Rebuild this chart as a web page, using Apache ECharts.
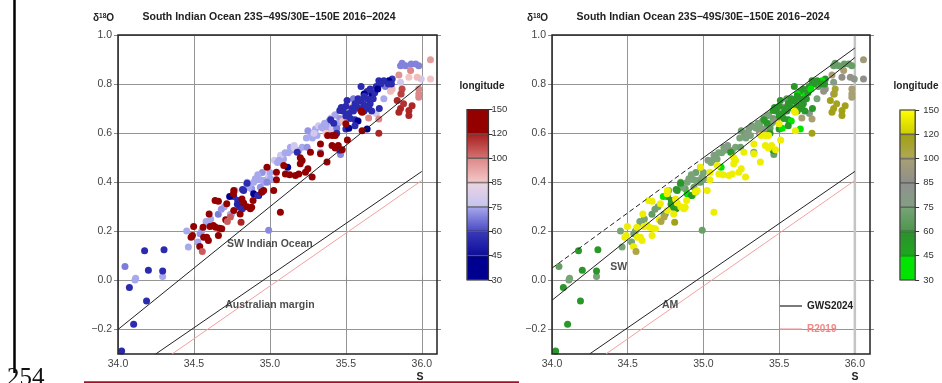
<!DOCTYPE html>
<html><head><meta charset="utf-8">
<script src="https://cdn.jsdelivr.net/npm/echarts@6/dist/echarts.min.js"></script>
<style>html,body{margin:0;padding:0;background:#fff;overflow:hidden}#c{width:942px;height:383px}</style>
</head><body><div id="c"></div>
<script>
// ---------- data ----------
const salinity = [
 34.046,34.116,34.112,34.294,34.463,34.452,34.525,34.551,34.590,34.540,
 34.748,34.770,34.847,34.880,34.860,34.904,34.937,34.992,34.960,34.990,
 35.000,35.030,35.050,35.090,35.070,35.135,35.160,35.190,35.212,35.245,
 35.120,35.240,35.270,35.250,35.300,35.310,35.320,35.350,35.370,35.390,
 35.400,35.420,35.340,35.390,35.410,35.430,35.460,35.450,35.333,34.740,
 34.700,34.660,34.850,34.893,34.937,34.960,35.003,34.981,35.996,35.860,
 35.750,35.700,35.440,35.465,35.980,35.960,35.930,35.893,35.860,35.870,
 35.550,35.760,35.970,36.057,35.805,35.860,35.794,35.915,35.530,35.600,
 35.480,35.140,35.160,35.100,35.060,34.950,34.920,34.980,35.280,35.290,
 35.360,35.370,34.610,34.680,34.580,
 34.024,34.103,34.188,34.075,34.200,34.294,34.175,34.303,34.762,34.788,
 34.800,34.786,34.819,34.827,34.893,34.926,34.948,34.920,35.117,35.180,
 35.460,34.850,34.820,35.805,35.783,35.750,35.717,35.730,35.700,35.660,
 35.640,35.673,35.680,35.620,35.620,35.600,35.640,35.580,35.560,35.508,
 35.500,35.570,35.620,35.660,35.590,35.650,35.670,35.620,35.550,35.520,
 35.480,35.460,35.470,35.500,35.530,35.560,35.580,35.500,35.520,35.560,
 35.640,35.420,35.400,35.720,35.780,35.800,35.690,35.710,34.735,35.600,
 35.540,35.440,
 34.498,34.481,34.490,34.538,34.555,34.584,34.595,34.564,34.606,34.628,
 34.643,34.560,34.600,34.661,34.668,34.683,34.709,34.720,34.716,34.639,
 34.661,34.760,34.762,34.740,34.762,34.810,34.816,34.827,34.804,34.850,
 34.871,34.889,34.880,34.946,34.959,34.981,35.025,35.043,35.043,35.069,
 35.091,35.102,35.130,35.168,35.190,35.200,35.234,35.250,35.278,35.212,
 35.200,35.267,35.333,35.333,35.376,35.409,35.430,35.410,35.430,35.380,
 35.450,35.476,35.510,35.500,35.607,35.600,35.607,35.717,35.717,35.650,
 35.838,35.870,35.936,35.915,35.915,35.849,35.860,35.880,35.864,35.980,
 35.980,35.980,35.849,35.926,36.057
];
const d18o = [
 0.057,0.009,0.002,0.016,0.136,0.201,0.156,0.201,0.233,0.190,
 0.271,0.366,0.393,0.373,0.380,0.414,0.410,0.204,0.400,0.420,
 0.440,0.490,0.480,0.495,0.510,0.543,0.550,0.529,0.543,0.543,
 0.520,0.580,0.600,0.610,0.617,0.590,0.630,0.620,0.630,0.650,
 0.660,0.670,0.624,0.617,0.617,0.675,0.660,0.640,0.522,0.270,
 0.300,0.270,0.400,0.400,0.380,0.407,0.414,0.400,0.821,0.807,
 0.740,0.680,0.620,0.513,0.875,0.882,0.882,0.875,0.875,0.885,
 0.740,0.790,0.828,0.821,0.780,0.760,0.771,0.828,0.706,0.732,
 0.650,0.530,0.540,0.520,0.490,0.440,0.430,0.460,0.580,0.600,
 0.640,0.600,0.250,0.290,0.240,
 -0.288,-0.179,-0.084,-0.029,0.041,0.038,0.121,0.125,0.342,0.326,
 0.298,0.310,0.292,0.366,0.353,0.346,0.360,0.346,0.461,0.522,
 0.530,0.396,0.370,0.821,0.814,0.814,0.814,0.800,0.790,0.780,
 0.770,0.753,0.740,0.760,0.750,0.730,0.740,0.740,0.720,0.733,
 0.710,0.710,0.715,0.720,0.700,0.700,0.690,0.690,0.690,0.680,
 0.690,0.692,0.705,0.670,0.660,0.655,0.650,0.617,0.620,0.630,
 0.617,0.640,0.655,0.700,0.800,0.800,0.765,0.780,0.342,0.790,
 0.700,0.600,
 0.220,0.176,0.183,0.138,0.118,0.176,0.163,0.176,0.220,0.224,
 0.217,0.217,0.271,0.183,0.212,0.210,0.247,0.240,0.312,0.326,
 0.323,0.353,0.366,0.258,0.285,0.237,0.332,0.315,0.271,0.300,
 0.292,0.326,0.298,0.360,0.366,0.461,0.366,0.441,0.410,0.278,
 0.468,0.434,0.430,0.427,0.434,0.475,0.441,0.455,0.421,0.489,
 0.500,0.522,0.556,0.516,0.482,0.550,0.540,0.590,0.590,0.590,
 0.550,0.532,0.572,0.638,0.685,0.690,0.610,0.600,0.658,0.662,
 0.733,0.780,0.712,0.692,0.672,0.685,0.700,0.720,0.760,0.780,
 0.760,0.746,0.837,0.855,0.899
];
const longitude = [
 68,75,75,75,75,75,75,75,75,72,
 75,75,75,72,75,75,75,70,75,78,
 75,78,75,75,78,75,78,75,75,72,
 75,75,75,72,75,75,78,75,75,72,
 75,80,75,75,78,75,72,75,75,75,
 75,68,75,75,72,75,75,70,78,78,
 75,78,68,70,69,69,69,69,69,69,
 68,68,88,86,88,88,88,86,88,88,
 88,75,78,75,75,72,75,78,75,78,
 75,86,75,72,75,
 55,55,55,55,55,55,55,55,55,55,
 55,52,55,55,42,42,55,55,42,55,
 55,55,55,58,42,55,55,55,55,55,
 55,42,55,42,55,55,55,55,55,55,
 55,55,55,55,55,55,55,55,55,55,
 55,55,55,55,55,55,42,55,42,55,
 42,55,55,55,55,55,55,42,42,55,
 55,55,
 140,140,140,140,105,140,140,140,140,140,
 140,140,140,140,140,140,140,105,140,140,
 140,140,140,105,140,118,140,140,140,140,
 140,140,140,140,140,140,140,140,140,140,
 140,140,140,140,140,140,140,140,140,140,
 140,140,140,140,140,140,140,140,140,140,
 140,140,140,140,140,140,140,118,100,100,
 118,110,118,118,118,118,118,115,112,100,
 100,100,98,100,95
];
const xTicks = [34.0, 34.5, 35.0, 35.5, 36.0];
const yTicks = [-0.2, 0.0, 0.2, 0.4, 0.6, 0.8, 1.0];
const cbLevels = [30, 45, 60, 75, 85, 100, 120, 150];
// reference lines (S, d18O end points)
const lineSWIndian = [[34.0, -0.2], [36.0, 0.8]];
const lineAM = [[34.248, -0.3], [36.0, 0.444]];
const lineR2019 = [[34.356, -0.3], [36.0, 0.407]];
const lineUpperDashed = [[34.0, 0.05], [34.98, 0.491]];
const lineUpperSolid = [[34.98, 0.491], [36.0, 0.947]];
const lineSW = [[34.0, -0.081], [36.0, 0.908]];
const lineS36 = [[36.0, -0.3], [36.0, 1.0]];
const titleText = 'South Indian Ocean 23S\u221249S/30E\u2212150E 2016\u22122024';

// colour palettes: [low, high] per segment of cbLevels
const segLeft = [['#000090','#000090'],['#0c0c9c','#3a3ab8'],['#4a4ac4','#a8a8ec'],['#c4c4f2','#ecd4e0'],['#f4c8c8','#dc8888'],['#d47272','#a81e1e'],['#940000','#940000']];
const segRight = [['#00e400','#00e400'],['#1ca81c','#2f8f2f'],['#4c964c','#78a478'],['#82a082','#909090'],['#8e8e8a','#a8a074'],['#b0a858','#a0a010'],['#cccc00','#ffff00']];

function lerpHex(a, b, t) {
  const pa = parseInt(a.slice(1), 16), pb = parseInt(b.slice(1), 16);
  const c = [16, 8, 0].map(s => Math.round(((pa >> s) & 255) * (1 - t) + ((pb >> s) & 255) * t));
  return 'rgb(' + c.join(',') + ')';
}
function cmap(seg, v) {
  let i = 0;
  while (i < cbLevels.length - 2 && v > cbLevels[i + 1]) i++;
  const t = Math.max(0, Math.min(1, (v - cbLevels[i]) / (cbLevels[i + 1] - cbLevels[i])));
  return lerpHex(seg[i][0], seg[i][1], t);
}

const points = salinity.map((s, i) => [s, d18o[i], longitude[i]]);
const FONT = 'Liberation Sans, Arial, sans-serif';
const fmtY = v => (Math.round(v * 10) / 10).toFixed(1).replace('-', '\u2212');

function mainAxes(gi) {
  const xs = [
    { type: 'value', gridIndex: gi, min: 34.0, max: 36.1, position: 'bottom',
      axisLine: { show: false },
      axisTick: { show: true, length: 4, customValues: xTicks, lineStyle: { color: '#888' } },
      axisLabel: { customValues: xTicks, formatter: v => v.toFixed(1), fontSize: 10.5, color: '#444', fontFamily: FONT, margin: 5 },
      splitLine: { show: true, lineStyle: { color: '#959595', width: 1 } } },
    { type: 'value', gridIndex: gi, min: 34.0, max: 36.1, position: 'top',
      axisLine: { show: false },
      axisTick: { show: true, length: 4, customValues: xTicks, lineStyle: { color: '#888' } },
      axisLabel: { show: false }, splitLine: { show: false } }
  ];
  const ys = [
    { type: 'value', gridIndex: gi, min: -0.3, max: 1.0, position: 'left',
      axisLine: { show: false },
      axisTick: { show: true, length: 4, customValues: yTicks, lineStyle: { color: '#888' } },
      axisLabel: { customValues: yTicks, formatter: fmtY, fontSize: 10.5, color: '#444', fontFamily: FONT, margin: 6 },
      splitLine: { show: true, lineStyle: { color: '#959595', width: 1 } } },
    { type: 'value', gridIndex: gi, min: -0.3, max: 1.0, position: 'right',
      axisLine: { show: false },
      axisTick: { show: true, length: 4, customValues: yTicks, lineStyle: { color: '#888' } },
      axisLabel: { show: false }, splitLine: { show: false } }
  ];
  return { xs, ys };
}
const A0 = mainAxes(0), A1 = mainAxes(1);

function cbAxes(gi, margin) {
  return {
    x: { type: 'category', gridIndex: gi, data: ['c'], show: false },
    y: { type: 'value', gridIndex: gi, min: 0, max: 7, interval: 1, position: 'right',
      axisLine: { show: false },
      axisTick: { show: true, length: 4, lineStyle: { color: '#333' } },
      axisLabel: { formatter: v => cbLevels[v], fontSize: 9.5, color: '#333', fontFamily: FONT, margin: margin },
      splitLine: { show: false } }
  };
}
const C0 = cbAxes(2, 3), C1 = cbAxes(3, 8);

function cbSeries(xi, yi, seg, key) {
  return seg.map((c, i) => ({
    type: 'bar', xAxisIndex: xi, yAxisIndex: yi, stack: key, barWidth: '100%', silent: true,
    data: [1],
    itemStyle: {
      color: new echarts.graphic.LinearGradient(0, 1, 0, 0, [{ offset: 0, color: c[0] }, { offset: 1, color: c[1] }]),
      borderColor: '#333', borderWidth: 0.6
    }
  }));
}

function lineS(name, xi, yi, data, color, type, width, z) {
  return { name, type: 'line', xAxisIndex: xi, yAxisIndex: yi, data, showSymbol: false, symbol: 'none',
    silent: true, z: z || 5, animation: false,
    lineStyle: { color, width: width || 1, type: type || 'solid' } };
}
function labelS(xi, yi, items) {
  return { type: 'scatter', xAxisIndex: xi, yAxisIndex: yi, symbolSize: 0, silent: true, z: 6,
    data: items.map(it => ({ value: [it[0], it[1]], name: it[2] })),
    label: { show: true, position: 'inside', formatter: p => p.name, fontSize: 10.5, fontWeight: 'bold', color: '#222', fontFamily: FONT } };
}

const tStyle = { fontSize: 10.5, fontWeight: 'bold', color: '#222', fontFamily: FONT };
const option = {
  animation: false,
  backgroundColor: '#fff',
  title: [
    { text: titleText, left: 264, top: 7, textAlign: 'center', textStyle: tStyle },
    { text: titleText, left: 698, top: 7, textAlign: 'center', textStyle: tStyle },
    { text: '\u03b4{s|18}O', left: 88, top: 8, textStyle: { fontSize: 10, color: '#222', fontFamily: FONT, rich: { s: { fontSize: 6.5, verticalAlign: 'top', color: '#222' } } } },
    { text: '\u03b4{s|18}O', left: 522, top: 8, textStyle: { fontSize: 10, color: '#222', fontFamily: FONT, rich: { s: { fontSize: 6.5, verticalAlign: 'top', color: '#222' } } } },
    { text: 'longitude', left: 477, top: 76, textAlign: 'center', textStyle: { fontSize: 10, fontWeight: 'bold', color: '#222', fontFamily: FONT } },
    { text: 'longitude', left: 911, top: 76, textAlign: 'center', textStyle: { fontSize: 10, fontWeight: 'bold', color: '#222', fontFamily: FONT } },
    { text: 'S', left: 415, top: 367, textAlign: 'center', textStyle: tStyle },
    { text: 'S', left: 850, top: 367, textAlign: 'center', textStyle: tStyle }
  ],
  legend: {
    left: 775, top: 296, orient: 'vertical', itemWidth: 22, itemHeight: 1.2, itemGap: 13,
    selectedMode: false, icon: 'rect',
    textStyle: { fontSize: 10, fontWeight: 'bold', fontFamily: FONT },
    data: [
      { name: 'GWS2024', itemStyle: { color: '#222' }, textStyle: { color: '#222' } },
      { name: 'R2019', itemStyle: { color: '#f4a0a0' }, textStyle: { color: '#f08888' } }
    ]
  },
  grid: [
    { left: 118, top: 35, width: 319, height: 319, show: true, borderColor: '#222', borderWidth: 1.5, backgroundColor: 'transparent', z: 3 },
    { left: 552, top: 35, width: 318, height: 319, show: true, borderColor: '#222', borderWidth: 1.5, backgroundColor: 'transparent', z: 3 },
    { left: 467, top: 109.5, width: 21.5, height: 170.5, show: true, borderColor: '#333', borderWidth: 1.2 },
    { left: 900, top: 110, width: 22, height: 170, show: true, borderColor: '#333', borderWidth: 1.2 }
  ],
  xAxis: [A0.xs[0], A0.xs[1], A1.xs[0], A1.xs[1], C0.x, C1.x],
  yAxis: [A0.ys[0], A0.ys[1], A1.ys[0], A1.ys[1], C0.y, C1.y],
  series: [
    { type: 'scatter', xAxisIndex: 0, yAxisIndex: 0, data: points, symbolSize: 7, z: 2,
      itemStyle: { color: p => cmap(segLeft, p.data[2]), opacity: 1 } },
    lineS('SW Indian Ocean', 0, 0, lineSWIndian, '#222'),
    lineS('Australian margin', 0, 0, lineAM, '#222'),
    lineS('R2019 (left)', 0, 0, lineR2019, '#f4a0a0'),
    labelS(0, 0, [[35.0, 0.149, 'SW Indian Ocean'], [35.0, -0.102, 'Australian margin']]),

    lineS('S=36 guide', 2, 2, lineS36, '#c4c4c4', 'solid', 2.5, 1),
    { type: 'scatter', xAxisIndex: 2, yAxisIndex: 2, data: points, symbolSize: 7, z: 2,
      itemStyle: { color: p => cmap(segRight, p.data[2]), opacity: 1 } },
    lineS('upper dashed', 2, 2, lineUpperDashed, '#222', [5, 3]),
    lineS('upper solid', 2, 2, lineUpperSolid, '#222'),
    lineS('SW', 2, 2, lineSW, '#222'),
    lineS('GWS2024', 2, 2, lineAM, '#222'),
    lineS('R2019', 2, 2, lineR2019, '#f4a0a0'),
    labelS(2, 2, [[34.44, 0.054, 'SW'], [34.78, -0.102, 'AM']]),

    ...cbSeries(4, 4, segLeft, 'cbl'),
    ...cbSeries(5, 5, segRight, 'cbr')
  ],
  graphic: [
    { type: 'line', shape: { x1: 14.5, y1: 0, x2: 14.5, y2: 373 }, style: { stroke: '#000', lineWidth: 2.5 } },
    { type: 'rect', shape: { x: 84, y: 381.3, width: 435, height: 2 }, style: { fill: '#a3102e' } },
    { type: 'text', x: 7, y: 366, style: { text: '254', font: '25px "Liberation Serif", serif', fill: '#111', verticalAlign: 'top' } }
  ]
};

const chart = echarts.init(document.getElementById('c'), null, { renderer: 'canvas' });
chart.setOption(option);
</script></body></html>
